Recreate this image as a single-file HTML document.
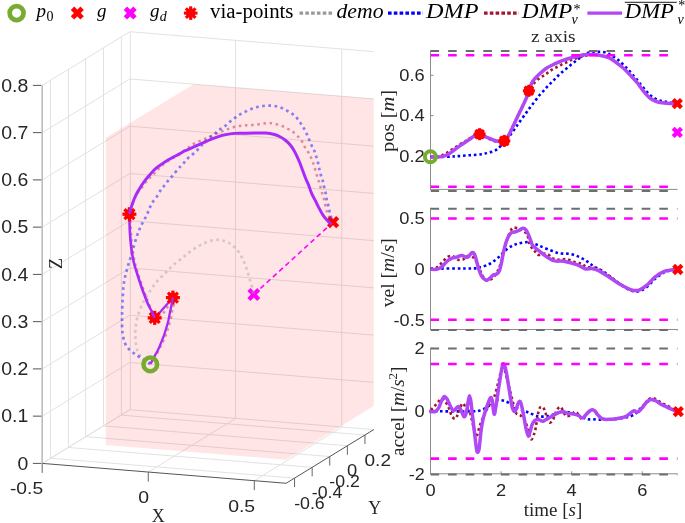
<!DOCTYPE html><html><head><meta charset="utf-8"><style>html,body{margin:0;padding:0;background:#fff;}svg{display:block;will-change:transform;}</style></head><body><svg width="685" height="523" viewBox="0 0 685 523">
<rect width="685" height="523" fill="#ffffff"/>
<g><line x1="50.5" y1="458.23" x2="50.5" y2="80.23" stroke="#e2e2e2" stroke-width="1" stroke-linecap="butt"/><line x1="68.5" y1="447.45" x2="68.5" y2="69.45" stroke="#e2e2e2" stroke-width="1" stroke-linecap="butt"/><line x1="85.6" y1="436.67" x2="85.6" y2="58.67" stroke="#e2e2e2" stroke-width="1" stroke-linecap="butt"/><line x1="103.5" y1="425.89" x2="103.5" y2="47.89" stroke="#e2e2e2" stroke-width="1" stroke-linecap="butt"/><line x1="121.4" y1="415.11" x2="121.4" y2="37.11" stroke="#e2e2e2" stroke-width="1" stroke-linecap="butt"/><line x1="42.2" y1="463.4" x2="129.85" y2="409.72" stroke="#e2e2e2" stroke-width="1" stroke-linecap="butt"/><line x1="42.2" y1="416.15" x2="129.85" y2="362.47" stroke="#e2e2e2" stroke-width="1" stroke-linecap="butt"/><line x1="42.2" y1="368.9" x2="129.85" y2="315.22" stroke="#e2e2e2" stroke-width="1" stroke-linecap="butt"/><line x1="42.2" y1="321.65" x2="129.85" y2="267.97" stroke="#e2e2e2" stroke-width="1" stroke-linecap="butt"/><line x1="42.2" y1="274.4" x2="129.85" y2="220.72" stroke="#e2e2e2" stroke-width="1" stroke-linecap="butt"/><line x1="42.2" y1="227.15" x2="129.85" y2="173.47" stroke="#e2e2e2" stroke-width="1" stroke-linecap="butt"/><line x1="42.2" y1="179.9" x2="129.85" y2="126.22" stroke="#e2e2e2" stroke-width="1" stroke-linecap="butt"/><line x1="42.2" y1="132.65" x2="129.85" y2="78.97" stroke="#e2e2e2" stroke-width="1" stroke-linecap="butt"/><line x1="42.2" y1="85.4" x2="129.85" y2="31.72" stroke="#e2e2e2" stroke-width="1" stroke-linecap="butt"/><line x1="130.3" y1="409.72" x2="130.3" y2="31.72" stroke="#e2e2e2" stroke-width="1" stroke-linecap="butt"/><line x1="235.5" y1="418.37" x2="235.5" y2="40.37" stroke="#e2e2e2" stroke-width="1" stroke-linecap="butt"/><line x1="341.8" y1="427.02" x2="341.8" y2="49.02" stroke="#e2e2e2" stroke-width="1" stroke-linecap="butt"/><line x1="129.85" y1="409.72" x2="373.76" y2="429.61" stroke="#e2e2e2" stroke-width="1" stroke-linecap="butt"/><line x1="129.85" y1="362.47" x2="373.76" y2="382.36" stroke="#e2e2e2" stroke-width="1" stroke-linecap="butt"/><line x1="129.85" y1="315.22" x2="373.76" y2="335.11" stroke="#e2e2e2" stroke-width="1" stroke-linecap="butt"/><line x1="129.85" y1="267.97" x2="373.76" y2="287.86" stroke="#e2e2e2" stroke-width="1" stroke-linecap="butt"/><line x1="129.85" y1="220.72" x2="373.76" y2="240.61" stroke="#e2e2e2" stroke-width="1" stroke-linecap="butt"/><line x1="129.85" y1="173.47" x2="373.76" y2="193.36" stroke="#e2e2e2" stroke-width="1" stroke-linecap="butt"/><line x1="129.85" y1="126.22" x2="373.76" y2="146.11" stroke="#e2e2e2" stroke-width="1" stroke-linecap="butt"/><line x1="129.85" y1="78.97" x2="373.76" y2="98.86" stroke="#e2e2e2" stroke-width="1" stroke-linecap="butt"/><line x1="129.85" y1="31.72" x2="373.76" y2="51.61" stroke="#e2e2e2" stroke-width="1" stroke-linecap="butt"/><line x1="42.2" y1="463.4" x2="129.85" y2="409.72" stroke="#e2e2e2" stroke-width="1" stroke-linecap="butt"/><line x1="148.25" y1="472.05" x2="235.9" y2="418.37" stroke="#e2e2e2" stroke-width="1" stroke-linecap="butt"/><line x1="254.3" y1="480.7" x2="341.95" y2="427.02" stroke="#e2e2e2" stroke-width="1" stroke-linecap="butt"/><line x1="50.65" y1="458.23" x2="294.56" y2="478.12" stroke="#e2e2e2" stroke-width="1" stroke-linecap="butt"/><line x1="68.25" y1="447.45" x2="312.16" y2="467.34" stroke="#e2e2e2" stroke-width="1" stroke-linecap="butt"/><line x1="85.85" y1="436.67" x2="329.76" y2="456.56" stroke="#e2e2e2" stroke-width="1" stroke-linecap="butt"/><line x1="103.45" y1="425.89" x2="347.36" y2="445.78" stroke="#e2e2e2" stroke-width="1" stroke-linecap="butt"/><line x1="121.05" y1="415.11" x2="364.96" y2="435" stroke="#e2e2e2" stroke-width="1" stroke-linecap="butt"/></g>
<polygon points="105.83,137.84 193.48,84.16 373.76,98.86 373.76,405.99 286.11,459.67 105.83,444.96" fill="#ff0000" fill-opacity="0.1"/>
<line x1="42.2" y1="463.4" x2="286.11" y2="483.29" stroke="#555555" stroke-width="1" stroke-linecap="butt"/>
<line x1="286.11" y1="483.29" x2="373.76" y2="429.61" stroke="#555555" stroke-width="1" stroke-linecap="butt"/>
<line x1="42.2" y1="463.4" x2="42.2" y2="85.4" stroke="#bdbdbd" stroke-width="1.6" stroke-linecap="butt"/>
<line x1="32.9" y1="463.4" x2="41.4" y2="463.4" stroke="#555" stroke-width="1" stroke-linecap="butt"/>
<line x1="32.9" y1="416.15" x2="41.4" y2="416.15" stroke="#555" stroke-width="1" stroke-linecap="butt"/>
<line x1="32.9" y1="368.9" x2="41.4" y2="368.9" stroke="#555" stroke-width="1" stroke-linecap="butt"/>
<line x1="32.9" y1="321.65" x2="41.4" y2="321.65" stroke="#555" stroke-width="1" stroke-linecap="butt"/>
<line x1="32.9" y1="274.4" x2="41.4" y2="274.4" stroke="#555" stroke-width="1" stroke-linecap="butt"/>
<line x1="32.9" y1="227.15" x2="41.4" y2="227.15" stroke="#555" stroke-width="1" stroke-linecap="butt"/>
<line x1="32.9" y1="179.9" x2="41.4" y2="179.9" stroke="#555" stroke-width="1" stroke-linecap="butt"/>
<line x1="32.9" y1="132.65" x2="41.4" y2="132.65" stroke="#555" stroke-width="1" stroke-linecap="butt"/>
<line x1="32.9" y1="85.4" x2="41.4" y2="85.4" stroke="#555" stroke-width="1" stroke-linecap="butt"/>
<line x1="42.2" y1="463.4" x2="42.2" y2="472.9" stroke="#666" stroke-width="1" stroke-linecap="butt"/>
<line x1="148.25" y1="472.05" x2="148.25" y2="481.55" stroke="#666" stroke-width="1" stroke-linecap="butt"/>
<line x1="254.3" y1="480.7" x2="254.3" y2="490.2" stroke="#666" stroke-width="1" stroke-linecap="butt"/>
<line x1="294.56" y1="478.12" x2="294.56" y2="487.12" stroke="#666" stroke-width="1" stroke-linecap="butt"/>
<line x1="312.16" y1="467.34" x2="312.16" y2="476.34" stroke="#666" stroke-width="1" stroke-linecap="butt"/>
<line x1="329.76" y1="456.56" x2="329.76" y2="465.56" stroke="#666" stroke-width="1" stroke-linecap="butt"/>
<line x1="347.36" y1="445.78" x2="347.36" y2="454.78" stroke="#666" stroke-width="1" stroke-linecap="butt"/>
<line x1="364.96" y1="435" x2="364.96" y2="444" stroke="#666" stroke-width="1" stroke-linecap="butt"/>
<text x="28.3" y="469.5" font-family="Liberation Sans" font-size="17.8" fill="#262626" text-anchor="end" textLength="10.81" lengthAdjust="spacingAndGlyphs">0</text>
<text x="28.3" y="422.25" font-family="Liberation Sans" font-size="17.8" fill="#262626" text-anchor="end" textLength="27.03" lengthAdjust="spacingAndGlyphs">0.1</text>
<text x="28.3" y="375" font-family="Liberation Sans" font-size="17.8" fill="#262626" text-anchor="end" textLength="27.03" lengthAdjust="spacingAndGlyphs">0.2</text>
<text x="28.3" y="327.75" font-family="Liberation Sans" font-size="17.8" fill="#262626" text-anchor="end" textLength="27.03" lengthAdjust="spacingAndGlyphs">0.3</text>
<text x="28.3" y="280.5" font-family="Liberation Sans" font-size="17.8" fill="#262626" text-anchor="end" textLength="27.03" lengthAdjust="spacingAndGlyphs">0.4</text>
<text x="28.3" y="233.25" font-family="Liberation Sans" font-size="17.8" fill="#262626" text-anchor="end" textLength="27.03" lengthAdjust="spacingAndGlyphs">0.5</text>
<text x="28.3" y="186" font-family="Liberation Sans" font-size="17.8" fill="#262626" text-anchor="end" textLength="27.03" lengthAdjust="spacingAndGlyphs">0.6</text>
<text x="28.3" y="138.75" font-family="Liberation Sans" font-size="17.8" fill="#262626" text-anchor="end" textLength="27.03" lengthAdjust="spacingAndGlyphs">0.7</text>
<text x="28.3" y="91.5" font-family="Liberation Sans" font-size="17.8" fill="#262626" text-anchor="end" textLength="27.03" lengthAdjust="spacingAndGlyphs">0.8</text>
<text x="43.1" y="494.4" font-family="Liberation Sans" font-size="17.4" fill="#262626" text-anchor="end" textLength="33.17" lengthAdjust="spacingAndGlyphs">-0.5</text>
<text x="149.15" y="503.05" font-family="Liberation Sans" font-size="17.4" fill="#262626" text-anchor="end" textLength="10.81" lengthAdjust="spacingAndGlyphs">0</text>
<text x="255.2" y="511.7" font-family="Liberation Sans" font-size="17.4" fill="#262626" text-anchor="end" textLength="27.03" lengthAdjust="spacingAndGlyphs">0.5</text>
<text x="294.16" y="508.62" font-family="Liberation Sans" font-size="17.4" fill="#262626" text-anchor="start" textLength="30.57" lengthAdjust="spacingAndGlyphs">-0.6</text>
<text x="311.76" y="497.84" font-family="Liberation Sans" font-size="17.4" fill="#262626" text-anchor="start" textLength="30.57" lengthAdjust="spacingAndGlyphs">-0.4</text>
<text x="329.36" y="487.06" font-family="Liberation Sans" font-size="17.4" fill="#262626" text-anchor="start" textLength="30.57" lengthAdjust="spacingAndGlyphs">-0.2</text>
<text x="346.96" y="476.28" font-family="Liberation Sans" font-size="17.4" fill="#262626" text-anchor="start" textLength="10.21" lengthAdjust="spacingAndGlyphs">0</text>
<text x="364.56" y="465.5" font-family="Liberation Sans" font-size="17.4" fill="#262626" text-anchor="start" textLength="26.43" lengthAdjust="spacingAndGlyphs">0.2</text>
<text x="158.3" y="521.8" font-family="Liberation Serif" font-size="18" fill="#262626" text-anchor="middle">X</text>
<text x="374.8" y="514" font-family="Liberation Serif" font-size="18" fill="#262626" text-anchor="middle">Y</text>
<text x="0" y="0" font-family="Liberation Serif" font-size="18" fill="#262626" text-anchor="middle" transform="translate(62.1 263.6) rotate(-90)">Z</text>
<line x1="333.1" y1="222.1" x2="253.8" y2="294.5" stroke="#FF00FF" stroke-width="1.6" stroke-linecap="butt" stroke-dasharray="5 3.5"/>
<g stroke="#FF0000" stroke-width="4.3" stroke-linecap="butt"><line x1="328.5" y1="217.5" x2="337.7" y2="226.7" stroke="#FF0000" stroke-width="4.3" stroke-linecap="butt"/><line x1="328.5" y1="226.7" x2="337.7" y2="217.5" stroke="#FF0000" stroke-width="4.3" stroke-linecap="butt"/></g>
<g stroke="#FF00FF" stroke-width="4.3" stroke-linecap="butt"><line x1="248.9" y1="289.6" x2="258.7" y2="299.4" stroke="#FF00FF" stroke-width="4.3" stroke-linecap="butt"/><line x1="248.9" y1="299.4" x2="258.7" y2="289.6" stroke="#FF00FF" stroke-width="4.3" stroke-linecap="butt"/></g>
<path d="M150.5,363.8 C150.22,363.7 150.05,364.1 148.8,363.2 C147.55,362.3 144.77,360.15 143,358.4 C141.23,356.65 139.32,354.77 138.2,352.7 C137.08,350.63 136.77,348.55 136.3,346 C135.83,343.45 135.55,340.12 135.4,337.4 C135.25,334.68 135.18,332.57 135.4,329.7 C135.62,326.83 136.07,323.23 136.7,320.2 C137.33,317.17 138.15,314.38 139.2,311.5 C140.25,308.62 141.73,305.43 143,302.9 C144.27,300.37 145.37,298.68 146.8,296.3 C148.23,293.92 149.8,291.2 151.6,288.6 C153.4,286 155.33,283.28 157.6,280.7 C159.87,278.12 162.67,275.63 165.2,273.1 C167.73,270.57 169.95,268.02 172.8,265.5 C175.65,262.98 179.15,260.52 182.3,258 C185.45,255.48 188.23,252.78 191.7,250.4 C195.17,248.02 199.3,245.45 203.1,243.7 C206.9,241.95 211.02,240.37 214.5,239.9 C217.98,239.43 221.15,240.1 224,240.9 C226.85,241.7 229.23,242.97 231.6,244.7 C233.97,246.43 236.3,248.78 238.2,251.3 C240.1,253.82 241.57,256.8 243,259.8 C244.43,262.8 245.7,266.13 246.8,269.3 C247.9,272.47 248.65,275.63 249.6,278.8 C250.55,281.97 251.87,285.75 252.5,288.3 C253.13,290.85 253.25,293.13 253.4,294.1" fill="none" stroke="#a8a8a8" stroke-width="2.7" stroke-linecap="butt" stroke-linejoin="round" stroke-dasharray="2.7 3.5" stroke-opacity="0.48"/>
<path d="M150.5,363.8 C150.05,363.53 149.52,363.27 147.8,362.2 C146.08,361.13 142.43,358.83 140.2,357.4 C137.97,355.97 136.32,355.03 134.4,353.6 C132.48,352.17 130.28,350.55 128.7,348.8 C127.12,347.05 125.92,345.65 124.9,343.1 C123.88,340.55 123.08,337 122.6,333.5 C122.12,330 122.07,326.02 122,322.1 C121.93,318.18 122.08,314.02 122.2,310 C122.32,305.98 122.48,301.95 122.7,298 C122.92,294.05 123.15,289.63 123.5,286.3 C123.85,282.97 124.28,280.55 124.8,278 C125.32,275.45 125.93,273.5 126.6,271 C127.27,268.5 128.03,265.57 128.8,263 C129.57,260.43 130.37,258.35 131.2,255.6 C132.03,252.85 132.92,249.55 133.8,246.5 C134.68,243.45 135.67,239.88 136.5,237.3 C137.33,234.72 138.03,232.97 138.8,231 C139.57,229.03 140.23,227.28 141.1,225.5 C141.97,223.72 143,222.18 144,220.3 C145,218.42 146.18,216.12 147.1,214.2 C148.02,212.28 148.73,210.58 149.5,208.8 C150.27,207.02 150.57,205.4 151.7,203.5 C152.83,201.6 154.77,199.68 156.3,197.4 C157.83,195.12 159.62,191.7 160.9,189.8 C162.18,187.9 162.98,187.28 164,186 C165.02,184.72 165.62,183.77 167,182.1 C168.38,180.43 170.02,178.67 172.3,176 C174.58,173.33 178.53,168.53 180.7,166.1 C182.87,163.67 183.9,162.9 185.3,161.4 C186.7,159.9 187.5,158.6 189.1,157.1 C190.7,155.6 193.15,153.98 194.9,152.4 C196.65,150.82 198.08,149.2 199.6,147.6 C201.12,146 202.48,144.38 204,142.8 C205.52,141.22 207,139.55 208.7,138.1 C210.4,136.65 212.5,135.43 214.2,134.1 C215.9,132.77 217.2,131.37 218.9,130.1 C220.6,128.83 222.6,127.87 224.4,126.5 C226.2,125.13 227.95,123.35 229.7,121.9 C231.45,120.45 233.15,119.07 234.9,117.8 C236.65,116.53 238.35,115.37 240.2,114.3 C242.05,113.23 243.97,112.38 246,111.4 C248.03,110.42 250.25,109.18 252.4,108.4 C254.55,107.62 256.75,107.15 258.9,106.7 C261.05,106.25 263.17,105.87 265.3,105.7 C267.43,105.53 269.57,105.53 271.7,105.7 C273.83,105.87 276.05,106.15 278.1,106.7 C280.15,107.25 282.05,108.07 284,109 C285.95,109.93 287.95,111.13 289.8,112.3 C291.65,113.47 293.55,114.55 295.1,116 C296.65,117.45 297.87,119.33 299.1,121 C300.33,122.67 301.38,124.18 302.5,126 C303.62,127.82 304.77,129.8 305.8,131.9 C306.83,134 307.75,136.37 308.7,138.6 C309.65,140.83 310.55,143.23 311.5,145.3 C312.45,147.37 313.6,149.08 314.4,151 C315.2,152.92 315.67,154.72 316.3,156.8 C316.93,158.88 317.65,161.27 318.2,163.5 C318.75,165.73 319.12,168.13 319.6,170.2 C320.08,172.27 320.53,174 321.1,175.9 C321.67,177.8 322.48,179.68 323,181.6 C323.52,183.52 323.72,185.32 324.2,187.4 C324.68,189.48 325.45,191.88 325.9,194.1 C326.35,196.32 326.42,198.48 326.9,200.7 C327.38,202.92 328.27,205.17 328.8,207.4 C329.33,209.63 329.48,211.83 330.1,214.1 C330.72,216.37 332.1,219.85 332.5,221" fill="none" stroke="#3c3cff" stroke-width="2.7" stroke-linecap="butt" stroke-linejoin="round" stroke-dasharray="2.7 3.5" stroke-opacity="0.62"/>
<path d="M150.5,363.8 C151,362.92 152.35,360.37 153.5,358.5 C154.65,356.63 156.2,354.7 157.4,352.6 C158.6,350.5 159.58,348.13 160.7,345.9 C161.82,343.67 163.1,341.43 164.1,339.2 C165.1,336.97 165.93,334.73 166.7,332.5 C167.47,330.27 168.02,328.15 168.7,325.8 C169.38,323.45 170.23,320.85 170.8,318.4 C171.37,315.95 171.67,313.22 172.1,311.1 C172.53,308.98 173.28,307.93 173.4,305.7 C173.52,303.47 172.9,299.03 172.8,297.7 L172.8,297.7 C172.23,298.82 170.63,302.4 169.4,304.4 C168.17,306.4 166.52,308.03 165.4,309.7 C164.28,311.37 163.85,313.1 162.7,314.4 C161.55,315.7 159.83,316.93 158.5,317.5 C157.17,318.07 155.33,317.75 154.7,317.8 L154.7,317.8 C153.73,315.5 150.38,307.63 148.9,304 C147.42,300.37 146.87,298.83 145.8,296 C144.73,293.17 143.73,290.58 142.5,287 C141.27,283.42 139.7,278.67 138.4,274.5 C137.1,270.33 135.73,266.57 134.7,262 C133.67,257.43 132.83,252.07 132.2,247.1 C131.57,242.13 131.2,237.55 130.9,232.2 C130.6,226.85 130.48,217.87 130.4,215 L130.4,215 C130.83,213 131.82,206.67 133,203 C134.18,199.33 135.92,195.72 137.5,193 C139.08,190.28 140.9,188.77 142.5,186.7 C144.1,184.63 145.57,182.38 147.1,180.6 C148.63,178.82 150.17,177.53 151.7,176 C153.23,174.47 154.8,172.97 156.3,171.4 C157.8,169.83 158.75,168.33 160.7,166.6 C162.65,164.87 165.45,162.77 168,161 C170.55,159.23 172.8,158.1 176,156 C179.2,153.9 184.37,150.35 187.2,148.4 C190.03,146.45 191.05,145.47 193,144.3 C194.95,143.13 196.95,142.3 198.9,141.4 C200.85,140.5 202.7,139.75 204.7,138.9 C206.7,138.05 208.83,137.22 210.9,136.3 C212.97,135.38 214.97,134.37 217.1,133.4 C219.23,132.43 221.63,131.3 223.7,130.5 C225.77,129.7 227.43,129.27 229.5,128.6 C231.57,127.93 233.93,127 236.1,126.5 C238.27,126 240.37,125.83 242.5,125.6 C244.63,125.37 246.75,125.23 248.9,125.1 C251.05,124.97 253.15,125.05 255.4,124.8 C257.65,124.55 260.13,123.9 262.4,123.6 C264.67,123.3 266.9,122.93 269,123 C271.1,123.07 272.82,123.5 275,124 C277.18,124.5 279.92,125.17 282.1,126 C284.28,126.83 286.27,128 288.1,129 C289.93,130 291.42,130.72 293.1,132 C294.78,133.28 296.72,135.12 298.2,136.7 C299.68,138.28 300.88,139.75 302,141.5 C303.12,143.25 303.78,145.3 304.9,147.2 C306.02,149.1 307.6,150.98 308.7,152.9 C309.8,154.82 310.68,156.78 311.5,158.7 C312.32,160.62 312.95,162.48 313.6,164.4 C314.25,166.32 314.78,168.13 315.4,170.2 C316.02,172.27 316.67,174.73 317.3,176.8 C317.93,178.87 318.57,180.52 319.2,182.6 C319.83,184.68 320.47,187.07 321.1,189.3 C321.73,191.53 322.4,193.93 323,196 C323.6,198.07 324.2,199.63 324.7,201.7 C325.2,203.77 325.48,206.33 326,208.4 C326.52,210.47 326.97,212.08 327.8,214.1 C328.63,216.12 330.47,219.43 331,220.5" fill="none" stroke="#b83050" stroke-width="2.5" stroke-linecap="butt" stroke-linejoin="round" stroke-dasharray="2.5 3.7" stroke-opacity="0.5"/>
<path d="M172.8,297.7 L158,314.5" fill="none" stroke="#A82AF8" stroke-width="2.3" stroke-linecap="butt" stroke-linejoin="round"/>
<g fill="#FF0000"><circle cx="154.7" cy="317.9" r="5"/><rect x="147.7" y="316.3" width="14" height="3.2" transform="rotate(0 154.7 317.9)"/><rect x="147.7" y="316.3" width="14" height="3.2" transform="rotate(45 154.7 317.9)"/><rect x="147.7" y="316.3" width="14" height="3.2" transform="rotate(90 154.7 317.9)"/><rect x="147.7" y="316.3" width="14" height="3.2" transform="rotate(135 154.7 317.9)"/></g>
<path d="M154.7,317.8 C154.15,316.63 152.53,313.12 151.4,310.8 C150.27,308.48 149,306.37 147.9,303.9 C146.8,301.43 145.87,298.82 144.8,296 C143.73,293.18 142.73,290.58 141.5,287 C140.27,283.42 138.7,278.67 137.4,274.5 C136.1,270.33 134.73,266.57 133.7,262 C132.67,257.43 131.83,252.07 131.2,247.1 C130.57,242.13 130.22,237.72 129.9,232.2 C129.58,226.68 129.4,217.03 129.3,214" fill="none" stroke="#A82AF8" stroke-width="2.6" stroke-linecap="butt" stroke-linejoin="round"/>
<g fill="#FF0000"><circle cx="129.4" cy="214.2" r="5"/><rect x="122.4" y="212.6" width="14" height="3.2" transform="rotate(0 129.4 214.2)"/><rect x="122.4" y="212.6" width="14" height="3.2" transform="rotate(45 129.4 214.2)"/><rect x="122.4" y="212.6" width="14" height="3.2" transform="rotate(90 129.4 214.2)"/><rect x="122.4" y="212.6" width="14" height="3.2" transform="rotate(135 129.4 214.2)"/></g>
<g fill="#FF0000"><circle cx="172.9" cy="297.6" r="5"/><rect x="165.9" y="296" width="14" height="3.2" transform="rotate(0 172.9 297.6)"/><rect x="165.9" y="296" width="14" height="3.2" transform="rotate(45 172.9 297.6)"/><rect x="165.9" y="296" width="14" height="3.2" transform="rotate(90 172.9 297.6)"/><rect x="165.9" y="296" width="14" height="3.2" transform="rotate(135 172.9 297.6)"/></g>
<path d="M150.5,363.8 C151.2,362.48 153.33,358.45 154.7,355.9 C156.07,353.35 157.58,350.83 158.7,348.5 C159.82,346.17 160.5,344.12 161.4,341.9 C162.3,339.68 163.32,337.43 164.1,335.2 C164.88,332.97 165.43,330.73 166.1,328.5 C166.77,326.27 167.55,324.03 168.1,321.8 C168.65,319.57 168.95,317.33 169.4,315.1 C169.85,312.87 170.35,310.63 170.8,308.4 C171.25,306.17 171.77,303.48 172.1,301.7 C172.43,299.92 172.68,298.37 172.8,297.7" fill="none" stroke="#A82AF8" stroke-width="2.3" stroke-linecap="butt" stroke-linejoin="round"/>
<path d="M129.3,213.8 C129.53,213 130.25,210.47 130.7,209 C131.15,207.53 131.55,206.33 132,205 C132.45,203.67 132.9,202.33 133.4,201 C133.9,199.67 134.4,198.33 135,197 C135.6,195.67 136.27,194.33 137,193 C137.73,191.67 138.6,190.33 139.4,189 C140.2,187.67 140.78,186.53 141.8,185 C142.82,183.47 144.05,181.65 145.5,179.8 C146.95,177.95 148.78,175.8 150.5,173.9 C152.22,172 153.93,170.03 155.8,168.4 C157.67,166.77 159.75,165.45 161.7,164.1 C163.65,162.75 165.55,161.47 167.5,160.3 C169.45,159.13 171.45,158.13 173.4,157.1 C175.35,156.07 177.27,155.15 179.2,154.1 C181.13,153.05 182.82,151.88 185,150.8 C187.18,149.72 189.87,148.68 192.3,147.6 C194.73,146.52 197.17,145.38 199.6,144.3 C202.03,143.22 204.47,142.13 206.9,141.1 C209.33,140.07 211.77,139.02 214.2,138.1 C216.63,137.18 219.07,136.27 221.5,135.6 C223.93,134.93 226.55,134.47 228.8,134.1 C231.05,133.73 232.72,133.53 235,133.4 C237.28,133.27 239.3,133.37 242.5,133.3 C245.7,133.23 250.3,133.05 254.2,133 C258.1,132.95 262.68,132.8 265.9,133 C269.12,133.2 271.15,133.58 273.5,134.2 C275.85,134.82 277.97,135.65 280,136.7 C282.03,137.75 283.95,139.07 285.7,140.5 C287.45,141.93 289.07,143.55 290.5,145.3 C291.93,147.05 293.18,149.08 294.3,151 C295.42,152.92 296.23,154.72 297.2,156.8 C298.17,158.88 299.15,161.12 300.1,163.5 C301.05,165.88 301.95,168.55 302.9,171.1 C303.85,173.65 304.83,176.42 305.8,178.8 C306.77,181.18 307.75,183.02 308.7,185.4 C309.65,187.78 310.38,190.55 311.5,193.1 C312.62,195.65 314.12,198.15 315.4,200.7 C316.68,203.25 317.93,206 319.2,208.4 C320.47,210.8 321.73,213.18 323,215.1 C324.27,217.02 325.72,218.62 326.8,219.9 C327.88,221.18 328.72,222.03 329.5,222.8 C330.28,223.57 331.17,224.22 331.5,224.5" fill="none" stroke="#A82AF8" stroke-width="2.95" stroke-linecap="butt" stroke-linejoin="round"/>
<circle cx="150.3" cy="364.4" r="6.85" fill="none" stroke="#77AC30" stroke-width="4.5"/>
<clipPath id="c0"><rect x="430.5" y="47.2" width="245.9" height="145.2"/></clipPath>
<clipPath id="c0w"><rect x="420.5" y="38.2" width="267" height="163.2"/></clipPath>
<line x1="430.5" y1="50.2" x2="430.5" y2="189.9" stroke="#8c8c8c" stroke-width="1" stroke-linecap="butt"/>
<line x1="430.5" y1="189.4" x2="677.5" y2="189.4" stroke="#8c8c8c" stroke-width="1" stroke-linecap="butt"/>
<line x1="430.5" y1="75.3" x2="433.5" y2="75.3" stroke="#8c8c8c" stroke-width="1" stroke-linecap="butt"/>
<text x="424.8" y="81.1" font-family="Liberation Sans" font-size="16.4" fill="#262626" text-anchor="end" textLength="25.44" lengthAdjust="spacingAndGlyphs">0.6</text>
<line x1="430.5" y1="115.6" x2="433.5" y2="115.6" stroke="#8c8c8c" stroke-width="1" stroke-linecap="butt"/>
<text x="424.8" y="121.4" font-family="Liberation Sans" font-size="16.4" fill="#262626" text-anchor="end" textLength="25.44" lengthAdjust="spacingAndGlyphs">0.4</text>
<line x1="430.5" y1="156" x2="433.5" y2="156" stroke="#8c8c8c" stroke-width="1" stroke-linecap="butt"/>
<text x="424.8" y="161.8" font-family="Liberation Sans" font-size="16.4" fill="#262626" text-anchor="end" textLength="25.44" lengthAdjust="spacingAndGlyphs">0.2</text>
<clipPath id="c1"><rect x="430.5" y="204.8" width="247.3" height="127.7"/></clipPath>
<clipPath id="c1w"><rect x="420.5" y="195.8" width="267" height="145.7"/></clipPath>
<line x1="430.5" y1="207.8" x2="430.5" y2="330" stroke="#8c8c8c" stroke-width="1" stroke-linecap="butt"/>
<line x1="430.5" y1="329.5" x2="677.5" y2="329.5" stroke="#8c8c8c" stroke-width="1" stroke-linecap="butt"/>
<line x1="430.5" y1="218.5" x2="433.5" y2="218.5" stroke="#8c8c8c" stroke-width="1" stroke-linecap="butt"/>
<text x="424.8" y="224.3" font-family="Liberation Sans" font-size="16.4" fill="#262626" text-anchor="end" textLength="25.44" lengthAdjust="spacingAndGlyphs">0.5</text>
<line x1="430.5" y1="269.2" x2="433.5" y2="269.2" stroke="#8c8c8c" stroke-width="1" stroke-linecap="butt"/>
<text x="424.8" y="275" font-family="Liberation Sans" font-size="16.4" fill="#262626" text-anchor="end" textLength="10.18" lengthAdjust="spacingAndGlyphs">0</text>
<line x1="430.5" y1="319.7" x2="433.5" y2="319.7" stroke="#8c8c8c" stroke-width="1" stroke-linecap="butt"/>
<text x="424.8" y="325.5" font-family="Liberation Sans" font-size="16.4" fill="#262626" text-anchor="end" textLength="31.22" lengthAdjust="spacingAndGlyphs">-0.5</text>
<clipPath id="c2"><rect x="430.5" y="344.8" width="247.3" height="132"/></clipPath>
<clipPath id="c2w"><rect x="420.5" y="335.8" width="267" height="150"/></clipPath>
<line x1="430.5" y1="347.8" x2="430.5" y2="474.3" stroke="#8c8c8c" stroke-width="1" stroke-linecap="butt"/>
<line x1="430.5" y1="473.8" x2="677.5" y2="473.8" stroke="#8c8c8c" stroke-width="1" stroke-linecap="butt"/>
<line x1="430.5" y1="348.3" x2="433.5" y2="348.3" stroke="#8c8c8c" stroke-width="1" stroke-linecap="butt"/>
<text x="424.8" y="354.1" font-family="Liberation Sans" font-size="16.4" fill="#262626" text-anchor="end" textLength="10.18" lengthAdjust="spacingAndGlyphs">2</text>
<line x1="430.5" y1="411.2" x2="433.5" y2="411.2" stroke="#8c8c8c" stroke-width="1" stroke-linecap="butt"/>
<text x="424.8" y="417" font-family="Liberation Sans" font-size="16.4" fill="#262626" text-anchor="end" textLength="10.18" lengthAdjust="spacingAndGlyphs">0</text>
<line x1="430.5" y1="474.1" x2="433.5" y2="474.1" stroke="#8c8c8c" stroke-width="1" stroke-linecap="butt"/>
<text x="424.8" y="479.9" font-family="Liberation Sans" font-size="16.4" fill="#262626" text-anchor="end" textLength="15.95" lengthAdjust="spacingAndGlyphs">-2</text>
<line x1="501.1" y1="473.8" x2="501.1" y2="471.3" stroke="#8c8c8c" stroke-width="1" stroke-linecap="butt"/>
<line x1="571.7" y1="473.8" x2="571.7" y2="471.3" stroke="#8c8c8c" stroke-width="1" stroke-linecap="butt"/>
<line x1="642.3" y1="473.8" x2="642.3" y2="471.3" stroke="#8c8c8c" stroke-width="1" stroke-linecap="butt"/>
<text x="430.5" y="496" font-family="Liberation Sans" font-size="16.4" fill="#262626" text-anchor="middle" textLength="10.18" lengthAdjust="spacingAndGlyphs">0</text>
<text x="501.1" y="496" font-family="Liberation Sans" font-size="16.4" fill="#262626" text-anchor="middle" textLength="10.18" lengthAdjust="spacingAndGlyphs">2</text>
<text x="571.7" y="496" font-family="Liberation Sans" font-size="16.4" fill="#262626" text-anchor="middle" textLength="10.18" lengthAdjust="spacingAndGlyphs">4</text>
<text x="642.3" y="496" font-family="Liberation Sans" font-size="16.4" fill="#262626" text-anchor="middle" textLength="10.18" lengthAdjust="spacingAndGlyphs">6</text>
<text x="553.3" y="41.8" font-family="Liberation Serif" font-size="17" fill="#262626" text-anchor="middle" textLength="44.5" lengthAdjust="spacingAndGlyphs">z axis</text>
<text x="553" y="515.8" font-family="Liberation Serif" font-size="19" fill="#262626" text-anchor="middle" textLength="58.5" lengthAdjust="spacingAndGlyphs">time [<tspan font-style="italic">s</tspan>]</text>
<text x="0" y="0" font-family="Liberation Serif" font-size="19" fill="#262626" text-anchor="middle" textLength="62" lengthAdjust="spacingAndGlyphs" transform="translate(393.8 120.9) rotate(-90)">pos [<tspan font-style="italic">m</tspan>]</text>
<text x="0" y="0" font-family="Liberation Serif" font-size="19" fill="#262626" text-anchor="middle" textLength="69" lengthAdjust="spacingAndGlyphs" transform="translate(393.6 272.7) rotate(-90)">vel [<tspan font-style="italic">m</tspan>/<tspan font-style="italic">s</tspan>]</text>
<text x="0" y="0" font-family="Liberation Serif" font-size="19" fill="#262626" text-anchor="middle" textLength="89.5" lengthAdjust="spacingAndGlyphs" transform="translate(404.2 411.3) rotate(-90)">accel [<tspan font-style="italic">m</tspan>/<tspan font-style="italic">s</tspan><tspan font-size="13" dy="-7">2</tspan><tspan dy="7">]</tspan></text>
<g clip-path="url(#c0w)">
<path d="M430.7,157 C433.6,156.95 443.45,156.85 448.1,156.7 C452.75,156.55 454.95,156.35 458.6,156.1 C462.25,155.85 466.2,155.5 470,155.2 C473.8,154.9 478.37,154.73 481.4,154.3 C484.43,153.87 485.93,153.22 488.2,152.6 C490.47,151.98 492.85,151.75 495,150.6 C497.15,149.45 498.55,148.3 501.1,145.7 C503.65,143.1 507.5,138.57 510.3,135 C513.1,131.43 515.35,127.87 517.9,124.3 C520.45,120.73 523.58,116.38 525.6,113.6 C527.62,110.82 528.47,109.63 530,107.6 C531.53,105.57 533.2,103.5 534.8,101.4 C536.4,99.3 538.07,96.85 539.6,95 C541.13,93.15 542.6,91.82 544,90.3 C545.4,88.78 546.75,87.22 548,85.9 C549.25,84.58 550.27,83.63 551.5,82.4 C552.73,81.17 554.1,79.82 555.4,78.5 C556.7,77.18 557.98,75.75 559.3,74.5 C560.62,73.25 561.9,72.17 563.3,71 C564.7,69.83 566.25,68.67 567.7,67.5 C569.15,66.33 570.55,65.17 572,64 C573.45,62.83 575,61.58 576.4,60.5 C577.8,59.42 578.88,58.62 580.4,57.5 C581.92,56.38 583.73,54.65 585.5,53.8 C587.27,52.95 589.25,52.7 591,52.4 C592.75,52.1 594.25,52.1 596,52 C597.75,51.9 599.6,51.62 601.5,51.8 C603.4,51.98 605.75,52.47 607.4,53.1 C609.05,53.73 609.88,54.7 611.4,55.6 C612.92,56.5 614.95,57.4 616.5,58.5 C618.05,59.6 619.32,60.93 620.7,62.2 C622.08,63.47 623.48,64.8 624.8,66.1 C626.12,67.4 627.4,68.68 628.6,70 C629.8,71.32 630.8,72.63 632,74 C633.2,75.37 634.65,76.82 635.8,78.2 C636.95,79.58 637.72,80.8 638.9,82.3 C640.08,83.8 641.62,85.65 642.9,87.2 C644.18,88.75 645.37,90.25 646.6,91.6 C647.83,92.95 648.95,94.17 650.3,95.3 C651.65,96.43 653.15,97.53 654.7,98.4 C656.25,99.27 657.95,99.98 659.6,100.5 C661.25,101.02 662.93,101.18 664.6,101.5 C666.27,101.82 667.53,102.12 669.6,102.4 C671.67,102.68 675.77,103.07 677,103.2" fill="none" stroke="#0000FF" stroke-width="2.6" stroke-linecap="butt" stroke-linejoin="round" stroke-dasharray="2.6 2.8"/>
<path d="M430.7,157 C431.68,156.93 434.65,156.92 436.6,156.6 C438.55,156.28 440.6,155.78 442.4,155.1 C444.2,154.42 445.83,153.42 447.4,152.5 C448.97,151.58 450.28,150.57 451.8,149.6 C453.32,148.63 454.95,147.68 456.5,146.7 C458.05,145.72 459.55,144.63 461.1,143.7 C462.65,142.77 464.23,142.07 465.8,141.1 C467.37,140.13 468.18,139.05 470.5,137.9 C472.82,136.75 476.75,134.1 479.7,134.2 C482.65,134.3 485.38,137.28 488.2,138.5 C491.02,139.72 493.92,141.1 496.6,141.5 C499.28,141.9 502.27,142.07 504.3,140.9 C506.33,139.73 506.53,138.73 508.8,134.5 C511.07,130.27 515.1,121.33 517.9,115.5 C520.7,109.67 523.77,103.62 525.6,99.5 C527.43,95.38 527.92,92.97 528.9,90.8 C529.88,88.63 530.58,87.83 531.5,86.5 C532.42,85.17 533.05,84.22 534.4,82.8 C535.75,81.38 538,79.23 539.6,78 C541.2,76.77 542.53,76.35 544,75.4 C545.47,74.45 546.87,73.4 548.4,72.3 C549.93,71.2 551.6,69.75 553.2,68.8 C554.8,67.85 556.4,67.4 558,66.6 C559.6,65.8 561.18,64.8 562.8,64 C564.42,63.2 566.17,62.53 567.7,61.8 C569.23,61.07 570.55,60.18 572,59.6 C573.45,59.02 574.7,58.82 576.4,58.3 C578.1,57.78 580.2,57.05 582.2,56.5 C584.2,55.95 586.33,55.28 588.4,55 C590.47,54.72 592.35,54.68 594.6,54.8 C596.85,54.92 600,55.37 601.9,55.7 C603.8,56.03 604.65,56.38 606,56.8 C607.35,57.22 608.18,57.17 610,58.2 C611.82,59.23 614.6,61.28 616.9,63 C619.2,64.72 621.52,66.43 623.8,68.5 C626.08,70.57 628.32,72.98 630.6,75.4 C632.88,77.82 635.35,80.37 637.5,83 C639.65,85.63 641.47,88.72 643.5,91.2 C645.53,93.68 647.63,96.22 649.7,97.9 C651.77,99.58 653.83,100.48 655.9,101.3 C657.97,102.12 659.82,102.45 662.1,102.8 C664.38,103.15 667.12,103.28 669.6,103.4 C672.08,103.52 675.77,103.48 677,103.5" fill="none" stroke="#A2142F" stroke-width="2.6" stroke-linecap="butt" stroke-linejoin="round" stroke-dasharray="2.6 2.8"/>
<path d="M430.7,157 C431.85,157.02 435.75,157.17 437.6,157.1 C439.45,157.03 440.12,157.02 441.8,156.6 C443.48,156.18 445.75,155.62 447.7,154.6 C449.65,153.58 451.55,151.92 453.5,150.5 C455.45,149.08 457.45,147.47 459.4,146.1 C461.35,144.73 463.25,143.62 465.2,142.3 C467.15,140.98 469.55,139.28 471.1,138.2 C472.65,137.12 473.07,136.47 474.5,135.8 C475.93,135.13 477.97,134.1 479.7,134.2 C481.43,134.3 483.48,135.78 484.9,136.4 C486.32,137.02 486.25,137.13 488.2,137.9 C490.15,138.67 493.92,140.5 496.6,141 C499.28,141.5 502.27,141.9 504.3,140.9 C506.33,139.9 506.53,139.17 508.8,135 C511.07,130.83 515.1,121.75 517.9,115.9 C520.7,110.05 523.77,104.08 525.6,99.9 C527.43,95.72 527.83,93.7 528.9,90.8 C529.97,87.9 530.9,84.63 532,82.5 C533.1,80.37 534.25,79.42 535.5,78 C536.75,76.58 538.2,75.23 539.5,74 C540.8,72.77 541.97,71.68 543.3,70.6 C544.63,69.52 546.07,68.38 547.5,67.5 C548.93,66.62 550.43,66.03 551.9,65.3 C553.37,64.57 554.85,63.75 556.3,63.1 C557.75,62.45 559.15,61.98 560.6,61.4 C562.05,60.82 563.53,60.12 565,59.6 C566.47,59.08 567.93,58.73 569.4,58.3 C570.87,57.87 572.33,57.37 573.8,57 C575.27,56.63 576.75,56.43 578.2,56.1 C579.65,55.77 580.98,55.25 582.5,55 C584.02,54.75 585.28,54.67 587.3,54.6 C589.32,54.53 592.17,54.42 594.6,54.6 C597.03,54.78 600,55.33 601.9,55.7 C603.8,56.07 604.65,56.38 606,56.8 C607.35,57.22 608.18,57.17 610,58.2 C611.82,59.23 614.6,61.28 616.9,63 C619.2,64.72 621.52,66.43 623.8,68.5 C626.08,70.57 628.32,72.98 630.6,75.4 C632.88,77.82 635.35,80.37 637.5,83 C639.65,85.63 641.47,88.72 643.5,91.2 C645.53,93.68 647.63,96.22 649.7,97.9 C651.77,99.58 653.83,100.48 655.9,101.3 C657.97,102.12 659.82,102.45 662.1,102.8 C664.38,103.15 667.12,103.28 669.6,103.4 C672.08,103.52 675.77,103.48 677,103.5" fill="none" stroke="#B048F5" stroke-width="3.5" stroke-linecap="butt" stroke-linejoin="round"/>
</g>
<g clip-path="url(#c0)"><line x1="430.5" y1="51" x2="677.5" y2="51" stroke="#6e6e6e" stroke-width="2" stroke-linecap="butt" stroke-dasharray="8.6 9.0"/></g>
<g clip-path="url(#c0)"><line x1="430.5" y1="190.9" x2="677.5" y2="190.9" stroke="#6e6e6e" stroke-width="2" stroke-linecap="butt" stroke-dasharray="8.6 9.0"/></g>
<g clip-path="url(#c0)"><line x1="430.5" y1="55.2" x2="677.5" y2="55.2" stroke="#FF00FF" stroke-width="2.6" stroke-linecap="butt" stroke-dasharray="8.6 9.0"/></g>
<g clip-path="url(#c0)"><line x1="430.5" y1="186.7" x2="677.5" y2="186.7" stroke="#FF00FF" stroke-width="2.6" stroke-linecap="butt" stroke-dasharray="8.6 9.0"/></g>
<g clip-path="url(#c1w)">
<path d="M430.6,268.6 C437.83,268.57 465.9,268.58 474,268.4 C482.1,268.22 477.25,267.97 479.2,267.5 C481.15,267.03 483.53,266.47 485.7,265.6 C487.87,264.73 490.03,263.72 492.2,262.3 C494.37,260.88 496.53,259.05 498.7,257.1 C500.87,255.15 503.03,252.43 505.2,250.6 C507.37,248.77 509.53,247.28 511.7,246.1 C513.87,244.92 515.82,244.15 518.2,243.5 C520.58,242.85 524.03,242.42 526,242.2 C527.97,241.98 528.03,241.72 530,242.2 C531.97,242.68 534.88,243.95 537.8,245.1 C540.72,246.25 543.98,247.75 547.5,249.1 C551.02,250.45 555.1,252.38 558.9,253.2 C562.7,254.02 566.78,253.32 570.3,254 C573.82,254.68 577.02,255.93 580,257.3 C582.98,258.67 585.75,260.58 588.2,262.2 C590.65,263.82 592.27,265.52 594.7,267 C597.13,268.48 599.55,268.93 602.8,271.1 C606.05,273.27 611,277.6 614.2,280 C617.4,282.4 619.2,283.75 622,285.5 C624.8,287.25 628.17,289.55 631,290.5 C633.83,291.45 636.25,291.87 639,291.2 C641.75,290.53 644.75,288.62 647.5,286.5 C650.25,284.38 652.58,280.92 655.5,278.5 C658.42,276.08 661.48,273.5 665,272 C668.52,270.5 674.67,269.92 676.6,269.5" fill="none" stroke="#0000FF" stroke-width="2.6" stroke-linecap="butt" stroke-linejoin="round" stroke-dasharray="2.6 2.8"/>
<path d="M430.6,269.3 C431.6,269 434.95,268.37 436.6,267.5 C438.25,266.63 439.2,265.38 440.5,264.1 C441.8,262.82 443.03,261.08 444.4,259.8 C445.77,258.52 447.2,256.97 448.7,256.4 C450.2,255.83 451.83,255.83 453.4,256.4 C454.97,256.97 456.45,259.3 458.1,259.8 C459.75,260.3 461.72,260.05 463.3,259.4 C464.88,258.75 466.02,256.27 467.6,255.9 C469.18,255.53 471.52,256.57 472.8,257.2 C474.08,257.83 474.12,257.55 475.3,259.7 C476.48,261.85 478.6,267.28 479.9,270.1 C481.2,272.92 482.02,274.87 483.1,276.6 C484.18,278.33 484.88,280.17 486.4,280.5 C487.92,280.83 490.37,280.12 492.2,278.6 C494.03,277.08 495.98,273.9 497.4,271.4 C498.82,268.9 499.72,266.63 500.7,263.6 C501.68,260.57 502.33,256.88 503.3,253.2 C504.27,249.52 505.42,244.97 506.5,241.5 C507.58,238.03 508.72,234.67 509.8,232.4 C510.88,230.13 511.6,228.55 513,227.9 C514.4,227.25 516.57,228.07 518.2,228.5 C519.83,228.93 521.28,229.42 522.8,230.5 C524.32,231.58 526.17,232.7 527.3,235 C528.43,237.3 528.4,241.67 529.6,244.3 C530.8,246.93 533.13,249.05 534.5,250.8 C535.87,252.55 536.45,254.27 537.8,254.8 C539.15,255.33 540.98,254.13 542.6,254 C544.22,253.87 545.87,253.32 547.5,254 C549.13,254.68 550.5,257.15 552.4,258.1 C554.3,259.05 556.47,259.52 558.9,259.7 C561.33,259.88 564.28,258.78 567,259.2 C569.72,259.62 572.75,261.43 575.2,262.2 C577.65,262.97 579.82,263 581.7,263.8 C583.58,264.6 584.33,266.33 586.5,267 C588.67,267.67 591.98,266.98 594.7,267.8 C597.42,268.62 599.82,270.13 602.8,271.9 C605.78,273.67 609.73,276.38 612.6,278.4 C615.47,280.42 616.95,282.1 620,284 C623.05,285.9 627.73,288.78 630.9,289.8 C634.07,290.82 636.28,290.92 639,290.1 C641.72,289.28 644.48,287.12 647.2,284.9 C649.92,282.68 652.33,279.1 655.3,276.8 C658.27,274.5 661.45,272.32 665,271.1 C668.55,269.88 674.67,269.77 676.6,269.5" fill="none" stroke="#A2142F" stroke-width="2.6" stroke-linecap="butt" stroke-linejoin="round" stroke-dasharray="2.6 2.8"/>
<path d="M430.6,269.3 C431.6,269.3 434.88,269.6 436.6,269.3 C438.32,269 439.6,268.37 440.9,267.5 C442.2,266.63 443.25,265.23 444.4,264.1 C445.55,262.97 446.52,261.7 447.8,260.7 C449.08,259.7 450.67,258.68 452.1,258.1 C453.53,257.52 454.82,257.63 456.4,257.2 C457.98,256.77 460.17,255.57 461.6,255.5 C463.03,255.43 464,256.52 465,256.8 C466,257.08 466.73,257.57 467.6,257.2 C468.47,256.83 469.42,255.38 470.2,254.6 C470.98,253.82 471.6,252.6 472.3,252.5 C473,252.4 473.68,252.58 474.4,254 C475.12,255.42 475.9,258.53 476.6,261 C477.3,263.47 477.83,266.42 478.6,268.8 C479.37,271.18 480.23,273.57 481.2,275.3 C482.17,277.03 483.32,278.43 484.4,279.2 C485.48,279.97 486.62,280.22 487.7,279.9 C488.78,279.58 489.93,278.17 490.9,277.3 C491.87,276.43 492.52,275.25 493.5,274.7 C494.48,274.15 495.82,274.65 496.8,274 C497.78,273.35 498.65,272.53 499.4,270.8 C500.15,269.07 500.65,266.53 501.3,263.6 C501.95,260.67 502.53,256.67 503.3,253.2 C504.07,249.73 505.03,245.62 505.9,242.8 C506.77,239.98 507.53,238.03 508.5,236.3 C509.47,234.57 510.52,233.15 511.7,232.4 C512.88,231.65 514.4,232.12 515.6,231.8 C516.8,231.48 517.7,231.1 518.9,230.5 C520.1,229.9 521.62,228.32 522.8,228.2 C523.98,228.08 525.03,228.67 526,229.8 C526.97,230.93 527.85,233.3 528.6,235 C529.35,236.7 529.77,238.18 530.5,240 C531.23,241.82 531.25,243.83 533,245.9 C534.75,247.97 538.58,250.5 541,252.4 C543.42,254.3 545.2,255.88 547.5,257.3 C549.8,258.72 552.08,260.23 554.8,260.9 C557.52,261.57 560.13,260.68 563.8,261.3 C567.47,261.92 573.28,263.37 576.8,264.6 C580.32,265.83 582.2,268.02 584.9,268.7 C587.6,269.38 590.55,268.3 593,268.7 C595.45,269.1 596.8,269.62 599.6,271.1 C602.4,272.58 606.48,275.43 609.8,277.6 C613.12,279.77 615.98,282.07 619.5,284.1 C623.02,286.13 627.65,288.8 630.9,289.8 C634.15,290.8 636.28,290.92 639,290.1 C641.72,289.28 644.48,287.12 647.2,284.9 C649.92,282.68 652.33,279.1 655.3,276.8 C658.27,274.5 661.45,272.32 665,271.1 C668.55,269.88 674.67,269.77 676.6,269.5" fill="none" stroke="#B048F5" stroke-width="3.5" stroke-linecap="butt" stroke-linejoin="round"/>
</g>
<g clip-path="url(#c1)"><line x1="430.5" y1="208.7" x2="677.5" y2="208.7" stroke="#6e6e6e" stroke-width="2" stroke-linecap="butt" stroke-dasharray="8.6 9.0"/></g>
<g clip-path="url(#c1)"><line x1="430.5" y1="330.1" x2="677.5" y2="330.1" stroke="#6e6e6e" stroke-width="2" stroke-linecap="butt" stroke-dasharray="8.6 9.0"/></g>
<g clip-path="url(#c1)"><line x1="430.5" y1="218.5" x2="677.5" y2="218.5" stroke="#FF00FF" stroke-width="2.6" stroke-linecap="butt" stroke-dasharray="8.6 9.0"/></g>
<g clip-path="url(#c1)"><line x1="430.5" y1="319.7" x2="677.5" y2="319.7" stroke="#FF00FF" stroke-width="2.6" stroke-linecap="butt" stroke-dasharray="8.6 9.0"/></g>
<g clip-path="url(#c2w)">
<path d="M429.4,411.2 C436.17,411.23 461.57,411.52 470,411.4 C478.43,411.28 477,411.3 480,410.5 C483,409.7 485.5,408.3 488,406.6 C490.5,404.9 492.08,401.18 495,400.3 C497.92,399.42 502,400.08 505.5,401.3 C509,402.52 512.48,405.85 516,407.6 C519.52,409.35 523.52,410.55 526.6,411.8 C529.68,413.05 532.38,414.32 534.5,415.1 C536.62,415.88 537.55,416.27 539.3,416.5 C541.05,416.73 543.1,416.67 545,416.5 C546.9,416.33 548.63,416.07 550.7,415.5 C552.77,414.93 555.17,413.73 557.4,413.1 C559.63,412.47 561.7,411.7 564.1,411.7 C566.5,411.7 569.57,412.53 571.8,413.1 C574.03,413.67 575.47,414.3 577.5,415.1 C579.53,415.9 582.27,417.2 584,417.9 C585.73,418.6 586.38,419.07 587.9,419.3 C589.42,419.53 591.28,419.22 593.1,419.3 C594.92,419.38 596.9,419.77 598.8,419.8 C600.7,419.83 601.8,419.65 604.5,419.5 C607.2,419.35 611.58,419.23 615,418.9 C618.42,418.57 622.22,418.02 625,417.5 C627.78,416.98 629.87,416.52 631.7,415.8 C633.53,415.08 634.62,414.37 636,413.2 C637.38,412.03 638.67,410.17 640,408.8 C641.33,407.43 642.67,406.25 644,405 C645.33,403.75 646.67,402.13 648,401.3 C649.33,400.47 650.67,400.05 652,400 C653.33,399.95 653.78,399.95 656,401 C658.22,402.05 661.87,404.55 665.3,406.3 C668.73,408.05 674.72,410.63 676.6,411.5" fill="none" stroke="#0000FF" stroke-width="2.6" stroke-linecap="butt" stroke-linejoin="round" stroke-dasharray="2.6 2.8"/>
<path d="M430.9,410.1 C431.48,409.5 433.22,407.82 434.4,406.5 C435.58,405.18 436.8,403.52 438,402.2 C439.2,400.88 440.4,398.72 441.6,398.6 C442.8,398.48 444,399.95 445.2,401.5 C446.4,403.05 447.73,405.52 448.8,407.9 C449.87,410.28 450.53,414 451.6,415.8 C452.67,417.6 454.12,419.05 455.2,418.7 C456.28,418.35 456.9,416.22 458.1,413.7 C459.3,411.18 461.08,404.57 462.4,403.6 C463.72,402.63 464.82,406.58 466,407.9 C467.18,409.22 468.55,409.58 469.5,411.5 C470.45,413.42 470.98,416.65 471.7,419.4 C472.42,422.15 473.08,425.02 473.8,428 C474.52,430.98 474.97,437.75 476,437.3 C477.03,436.85 478.67,428.98 480,425.3 C481.33,421.62 482.48,418.55 484,415.2 C485.52,411.85 487.42,408.2 489.1,405.2 C490.78,402.2 492.6,400.88 494.1,397.2 C495.6,393.52 496.93,387.45 498.1,383.1 C499.27,378.75 500.1,373.43 501.1,371.1 C502.1,368.77 503.1,367.77 504.1,369.1 C505.1,370.43 506.1,375.43 507.1,379.1 C508.1,382.77 509.08,387.08 510.1,391.1 C511.12,395.12 512.18,399.52 513.2,403.2 C514.22,406.88 515.03,411.2 516.2,413.2 C517.37,415.2 518.87,414.18 520.2,415.2 C521.53,416.22 523.08,417.57 524.2,419.3 C525.32,421.03 526.22,423.6 526.9,425.6 C527.58,427.6 527.58,429 528.3,431.3 C529.02,433.6 530.25,438.92 531.2,439.4 C532.15,439.88 533.28,435.95 534,434.2 C534.72,432.45 535.1,430.65 535.5,428.9 C535.9,427.15 536.08,425.53 536.4,423.7 C536.72,421.87 537.08,419.73 537.4,417.9 C537.72,416.07 537.83,414.45 538.3,412.7 C538.77,410.95 539.4,408.28 540.2,407.4 C541,406.52 542.22,406.52 543.1,407.4 C543.98,408.28 544.87,410.95 545.5,412.7 C546.13,414.45 546.27,416.23 546.9,417.9 C547.53,419.57 548.33,422.3 549.3,422.7 C550.27,423.1 551.82,421.5 552.7,420.3 C553.58,419.1 553.88,417.25 554.6,415.5 C555.32,413.75 556.05,411.23 557,409.8 C557.95,408.37 559.27,406.73 560.3,406.9 C561.33,407.07 562.25,409.28 563.2,410.8 C564.15,412.32 564.73,415.28 566,416 C567.27,416.72 569.28,415.82 570.8,415.1 C572.32,414.38 573.75,411.7 575.1,411.7 C576.45,411.7 577.7,413.82 578.9,415.1 C580.1,416.38 581.1,419.5 582.3,419.4 C583.5,419.3 584.88,415.9 586.1,414.5 C587.32,413.1 588.57,411.8 589.6,411 C590.63,410.2 591.42,409.7 592.3,409.7 C593.18,409.7 594.03,410.2 594.9,411 C595.77,411.8 596.48,413.33 597.5,414.5 C598.52,415.67 599.83,417.2 601,418 C602.17,418.8 603.03,419.08 604.5,419.3 C605.97,419.52 608.05,419.37 609.8,419.3 C611.55,419.23 613.25,419.12 615,418.9 C616.75,418.68 618.55,418.37 620.3,418 C622.05,417.63 623.9,417.43 625.5,416.7 C627.1,415.97 628.48,414.6 629.9,413.6 C631.32,412.6 632.78,410.92 634,410.7 C635.22,410.48 636.13,412.43 637.2,412.3 C638.27,412.17 639.32,410.97 640.4,409.9 C641.48,408.83 642.48,407.55 643.7,405.9 C644.92,404.25 646.37,401.32 647.7,400 C649.03,398.68 650.37,398.13 651.7,398 C653.03,397.87 654.23,398.48 655.7,399.2 C657.17,399.92 658.9,401.37 660.5,402.3 C662.1,403.23 663.68,403.97 665.3,404.8 C666.92,405.63 668.32,406.22 670.2,407.3 C672.08,408.38 675.53,410.63 676.6,411.3" fill="none" stroke="#A2142F" stroke-width="2.6" stroke-linecap="butt" stroke-linejoin="round" stroke-dasharray="2.6 2.8"/>
<path d="M429.4,411.5 C430.37,411.5 433.65,412.1 435.2,411.5 C436.75,410.9 437.63,409.68 438.7,407.9 C439.77,406.12 440.63,402.7 441.6,400.8 C442.57,398.9 443.55,396.75 444.5,396.5 C445.45,396.25 446.35,397.75 447.3,399.3 C448.25,400.85 449.23,403.88 450.2,405.8 C451.17,407.72 452.15,410.33 453.1,410.8 C454.05,411.27 455.02,409.32 455.9,408.6 C456.78,407.88 457.55,406.25 458.4,406.5 C459.25,406.75 460.1,408.43 461,410.1 C461.9,411.77 462.97,415.9 463.8,416.5 C464.63,417.1 465.28,416.08 466,413.7 C466.72,411.32 467.52,405.2 468.1,402.2 C468.68,399.2 469.02,395.7 469.5,395.7 C469.98,395.7 470.4,398.02 471,402.2 C471.6,406.38 472.38,414.6 473.1,420.8 C473.82,427 474.65,434.3 475.3,439.4 C475.95,444.5 476.38,449.73 477,451.4 C477.62,453.07 478.33,452.75 479,449.4 C479.67,446.05 480.33,436.32 481,431.3 C481.67,426.28 482.17,422.98 483,419.3 C483.83,415.62 484.82,412.72 486,409.2 C487.18,405.68 489.08,399.7 490.1,398.2 C491.12,396.7 491.43,397.53 492.1,400.2 C492.77,402.87 493.43,413.37 494.1,414.2 C494.77,415.03 495.27,410.05 496.1,405.2 C496.93,400.35 498.1,391.47 499.1,385.1 C500.1,378.73 501.33,370.52 502.1,367 C502.87,363.48 503.03,363.32 503.7,364 C504.37,364.68 505.2,366.92 506.1,371.1 C507,375.28 508.08,383.08 509.1,389.1 C510.12,395.12 511.18,403.52 512.2,407.2 C513.22,410.88 514.2,411.87 515.2,411.2 C516.2,410.53 517.3,404.7 518.2,403.2 C519.1,401.7 519.77,400.53 520.6,402.2 C521.43,403.87 522.27,408.68 523.2,413.2 C524.13,417.72 525.35,425.48 526.2,429.3 C527.05,433.12 527.63,435.77 528.3,436.1 C528.97,436.43 529.57,433.22 530.2,431.3 C530.83,429.38 531.38,426.35 532.1,424.6 C532.82,422.85 533.62,421.67 534.5,420.8 C535.38,419.93 536.45,419.48 537.4,419.4 C538.35,419.32 539.25,419.98 540.2,420.3 C541.15,420.62 541.98,421.53 543.1,421.3 C544.22,421.07 545.63,419.62 546.9,418.9 C548.17,418.18 549.42,417.72 550.7,417 C551.98,416.28 553.32,415.32 554.6,414.6 C555.88,413.88 557.13,413.18 558.4,412.7 C559.67,412.22 561.08,411.78 562.2,411.7 C563.32,411.62 563.98,411.88 565.1,412.2 C566.22,412.52 567.47,413.28 568.9,413.6 C570.33,413.92 572.12,413.78 573.7,414.1 C575.28,414.42 576.92,414.85 578.4,415.5 C579.88,416.15 581.32,418.17 582.6,418 C583.88,417.83 584.93,415.67 586.1,414.5 C587.27,413.33 588.57,411.8 589.6,411 C590.63,410.2 591.42,409.7 592.3,409.7 C593.18,409.7 594.03,410.2 594.9,411 C595.77,411.8 596.48,413.33 597.5,414.5 C598.52,415.67 599.83,417.2 601,418 C602.17,418.8 603.03,419.08 604.5,419.3 C605.97,419.52 608.05,419.37 609.8,419.3 C611.55,419.23 613.25,419.12 615,418.9 C616.75,418.68 618.55,418.37 620.3,418 C622.05,417.63 623.9,417.43 625.5,416.7 C627.1,415.97 628.48,414.6 629.9,413.6 C631.32,412.6 632.78,410.92 634,410.7 C635.22,410.48 636.13,412.43 637.2,412.3 C638.27,412.17 639.32,410.97 640.4,409.9 C641.48,408.83 642.48,407.37 643.7,405.9 C644.92,404.43 646.37,402.17 647.7,401.1 C649.03,400.03 650.37,399.57 651.7,399.5 C653.03,399.43 654.23,399.97 655.7,400.7 C657.17,401.43 658.9,402.97 660.5,403.9 C662.1,404.83 663.68,405.5 665.3,406.3 C666.92,407.1 668.32,407.83 670.2,408.7 C672.08,409.57 675.53,411.03 676.6,411.5" fill="none" stroke="#B048F5" stroke-width="3.5" stroke-linecap="butt" stroke-linejoin="round"/>
</g>
<g clip-path="url(#c2)"><line x1="430.5" y1="348.5" x2="677.5" y2="348.5" stroke="#6e6e6e" stroke-width="2" stroke-linecap="butt" stroke-dasharray="8.6 9.0"/></g>
<g clip-path="url(#c2)"><line x1="430.5" y1="474.4" x2="677.5" y2="474.4" stroke="#6e6e6e" stroke-width="2" stroke-linecap="butt" stroke-dasharray="8.6 9.0"/></g>
<g clip-path="url(#c2)"><line x1="430.5" y1="364" x2="677.5" y2="364" stroke="#FF00FF" stroke-width="2.6" stroke-linecap="butt" stroke-dasharray="8.6 9.0"/></g>
<g clip-path="url(#c2)"><line x1="430.5" y1="458.6" x2="677.5" y2="458.6" stroke="#FF00FF" stroke-width="2.6" stroke-linecap="butt" stroke-dasharray="8.6 9.0"/></g>
<circle cx="430.4" cy="156.8" r="5.5" fill="none" stroke="#77AC30" stroke-width="3.9"/>
<g fill="#FF0000"><circle cx="479.6" cy="134.2" r="5.4"/><rect x="473.6" y="132.7" width="12" height="3" transform="rotate(0 479.6 134.2)"/><rect x="473.6" y="132.7" width="12" height="3" transform="rotate(45 479.6 134.2)"/><rect x="473.6" y="132.7" width="12" height="3" transform="rotate(90 479.6 134.2)"/><rect x="473.6" y="132.7" width="12" height="3" transform="rotate(135 479.6 134.2)"/></g>
<g fill="#FF0000"><circle cx="504.3" cy="140.9" r="5.4"/><rect x="498.3" y="139.4" width="12" height="3" transform="rotate(0 504.3 140.9)"/><rect x="498.3" y="139.4" width="12" height="3" transform="rotate(45 504.3 140.9)"/><rect x="498.3" y="139.4" width="12" height="3" transform="rotate(90 504.3 140.9)"/><rect x="498.3" y="139.4" width="12" height="3" transform="rotate(135 504.3 140.9)"/></g>
<g fill="#FF0000"><circle cx="528.9" cy="90.8" r="5.4"/><rect x="522.9" y="89.3" width="12" height="3" transform="rotate(0 528.9 90.8)"/><rect x="522.9" y="89.3" width="12" height="3" transform="rotate(45 528.9 90.8)"/><rect x="522.9" y="89.3" width="12" height="3" transform="rotate(90 528.9 90.8)"/><rect x="522.9" y="89.3" width="12" height="3" transform="rotate(135 528.9 90.8)"/></g>
<g stroke="#FF0000" stroke-width="4.2" stroke-linecap="butt"><line x1="673.15" y1="99.55" x2="681.45" y2="107.85" stroke="#FF0000" stroke-width="4.2" stroke-linecap="butt"/><line x1="673.15" y1="107.85" x2="681.45" y2="99.55" stroke="#FF0000" stroke-width="4.2" stroke-linecap="butt"/></g>
<g stroke="#FF00FF" stroke-width="4.2" stroke-linecap="butt"><line x1="673.15" y1="128.15" x2="681.45" y2="136.45" stroke="#FF00FF" stroke-width="4.2" stroke-linecap="butt"/><line x1="673.15" y1="136.45" x2="681.45" y2="128.15" stroke="#FF00FF" stroke-width="4.2" stroke-linecap="butt"/></g>
<g stroke="#FF0000" stroke-width="4.2" stroke-linecap="butt"><line x1="673.65" y1="265.35" x2="681.95" y2="273.65" stroke="#FF0000" stroke-width="4.2" stroke-linecap="butt"/><line x1="673.65" y1="273.65" x2="681.95" y2="265.35" stroke="#FF0000" stroke-width="4.2" stroke-linecap="butt"/></g>
<g stroke="#FF0000" stroke-width="4.2" stroke-linecap="butt"><line x1="674.15" y1="407.45" x2="682.45" y2="415.75" stroke="#FF0000" stroke-width="4.2" stroke-linecap="butt"/><line x1="674.15" y1="415.75" x2="682.45" y2="407.45" stroke="#FF0000" stroke-width="4.2" stroke-linecap="butt"/></g>
<circle cx="16.6" cy="13.1" r="6.95" fill="none" stroke="#77AC30" stroke-width="4.7"/>
<text x="36.5" y="17.3" font-family="Liberation Serif" font-size="19" fill="#000"><tspan font-style="italic">p</tspan><tspan font-size="14" dy="3.2" dx="0.5">0</tspan></text>
<g stroke="#FF0000" stroke-width="4.8" stroke-linecap="butt"><line x1="72.5" y1="8.3" x2="82.1" y2="17.9" stroke="#FF0000" stroke-width="4.8" stroke-linecap="butt"/><line x1="72.5" y1="17.9" x2="82.1" y2="8.3" stroke="#FF0000" stroke-width="4.8" stroke-linecap="butt"/></g>
<text x="97" y="17.3" font-family="Liberation Serif" font-size="19" font-style="italic" fill="#000">g</text>
<g stroke="#FF00FF" stroke-width="4.8" stroke-linecap="butt"><line x1="125.4" y1="8.3" x2="135" y2="17.9" stroke="#FF00FF" stroke-width="4.8" stroke-linecap="butt"/><line x1="125.4" y1="17.9" x2="135" y2="8.3" stroke="#FF00FF" stroke-width="4.8" stroke-linecap="butt"/></g>
<text x="150" y="17.3" font-family="Liberation Serif" font-size="19" fill="#000"><tspan font-style="italic">g</tspan><tspan font-style="italic" font-size="14" dy="3.2" dx="0.3">d</tspan></text>
<g fill="#FF0000"><circle cx="190.7" cy="13.1" r="4.7"/><rect x="183.9" y="11.55" width="13.6" height="3.1" transform="rotate(0 190.7 13.1)"/><rect x="183.9" y="11.55" width="13.6" height="3.1" transform="rotate(45 190.7 13.1)"/><rect x="183.9" y="11.55" width="13.6" height="3.1" transform="rotate(90 190.7 13.1)"/><rect x="183.9" y="11.55" width="13.6" height="3.1" transform="rotate(135 190.7 13.1)"/></g>
<text x="210" y="17.5" font-family="Liberation Serif" font-size="20" fill="#000" text-anchor="start" textLength="83.5" lengthAdjust="spacingAndGlyphs">via-points</text>
<line x1="299.5" y1="13.1" x2="334" y2="13.1" stroke="#999999" stroke-width="3.2" stroke-linecap="butt" stroke-dasharray="3.6 2.2"/>
<text x="336.5" y="17.5" font-family="Liberation Serif" font-size="20" fill="#000" text-anchor="start" font-style="italic" textLength="47" lengthAdjust="spacingAndGlyphs">demo</text>
<line x1="388" y1="13.1" x2="423" y2="13.1" stroke="#0000FF" stroke-width="3.2" stroke-linecap="butt" stroke-dasharray="3.6 2.2"/>
<text x="426" y="17.5" font-family="Liberation Serif" font-size="20" fill="#000" text-anchor="start" font-style="italic" textLength="52.5" lengthAdjust="spacingAndGlyphs">DMP</text>
<line x1="484" y1="13.1" x2="519" y2="13.1" stroke="#A2142F" stroke-width="3.2" stroke-linecap="butt" stroke-dasharray="3.6 2.2"/>
<text x="521.8" y="17.5" font-family="Liberation Serif" font-size="20" fill="#000" font-style="italic"><tspan textLength="50.5" lengthAdjust="spacingAndGlyphs">DMP</tspan></text>
<text x="573.5" y="13.5" font-family="Liberation Serif" font-size="14" fill="#000">*</text>
<text x="571.5" y="23.6" font-family="Liberation Serif" font-size="14" font-style="italic" fill="#000">v</text>
<line x1="587.4" y1="13.1" x2="622" y2="13.1" stroke="#B048F5" stroke-width="3.3" stroke-linecap="butt"/>
<line x1="624.8" y1="2.3" x2="676.8" y2="2.3" stroke="#000" stroke-width="0.9" stroke-linecap="butt"/>
<text x="624.8" y="17.5" font-family="Liberation Serif" font-size="20" fill="#000" font-style="italic"><tspan textLength="49" lengthAdjust="spacingAndGlyphs">DMP</tspan></text>
<text x="678.3" y="10.3" font-family="Liberation Serif" font-size="14" fill="#000">*</text>
<text x="677.5" y="23.8" font-family="Liberation Serif" font-size="14" font-style="italic" fill="#000">v</text>
</svg></body></html>
